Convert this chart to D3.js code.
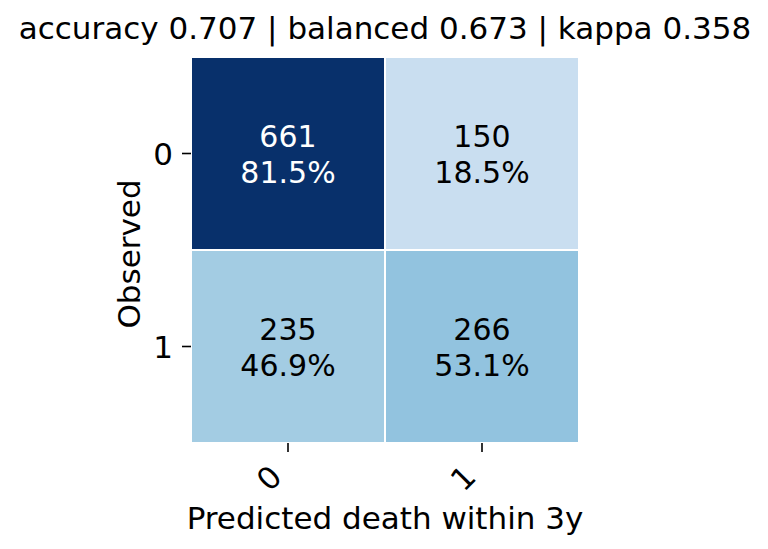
<!DOCTYPE html>
<html>
<head>
<meta charset="utf-8">
<script src="https://cdn.jsdelivr.net/npm/d3@7"></script>
<style>
  body { margin: 0; background: #fff; }
  text { font-family: "DejaVu Sans", sans-serif; }
</style>
</head>
<body>
<div id="chart"></div>
<script>
// confusion matrix values (rows = observed, cols = predicted)
const observedLabels = ["0", "1"];
const predictedLabels = ["0", "1"];
const counts = [
    [661, 150],
    [235, 266]
];
const rowPercents = [
    [81.5, 18.5],
    [46.9, 53.1]
];
const titleText = "accuracy 0.707 | balanced 0.673 | kappa 0.358";
const xLabel = "Predicted death within 3y";
const yLabel = "Observed";

const width = 768;
const height = 549;
const plot = { left: 191, right: 579, top: 57, bottom: 443 };
const fontSize = 31;
const cellFont = 30;

const svg = d3.select("#chart").append("svg")
    .attr("width", width)
    .attr("height", height);

const x = d3.scaleBand()
    .domain(predictedLabels)
    .range([plot.left, plot.right]);

const y = d3.scaleBand()
    .domain(observedLabels)
    .range([plot.top, plot.bottom]);

const color = d3.scaleSequential(d3.interpolateBlues)
    .domain([0, d3.max(counts.flat())]);

// flatten into cells
const cells = [];
observedLabels.forEach((o, i) => {
    predictedLabels.forEach((p, j) => {
        cells.push({ obs: o, pred: p, count: counts[i][j], pct: rowPercents[i][j] });
    });
});

const cellGroup = svg.append("g").attr("class", "cells");

cellGroup.selectAll("rect")
    .data(cells)
    .enter()
    .append("rect")
    .attr("x", d => x(d.pred))
    .attr("y", d => y(d.obs))
    .attr("width", x.bandwidth())
    .attr("height", y.bandwidth())
    .attr("fill", d => color(d.count))
    .attr("stroke", "#fff")
    .attr("stroke-width", 2);

// annotations
const labels = cellGroup.selectAll(".cell-label")
    .data(cells)
    .enter()
    .append("text")
    .attr("class", "cell-label")
    .attr("text-anchor", "middle")
    .attr("font-size", cellFont)
    .attr("fill", d => d.count / color.domain()[1] > 0.6 ? "#fff" : "#000");

labels.append("tspan")
    .attr("x", d => x(d.pred) + x.bandwidth() / 2)
    .attr("y", d => y(d.obs) + y.bandwidth() / 2 - 7)
    .text(d => d.count);

labels.append("tspan")
    .attr("x", d => x(d.pred) + x.bandwidth() / 2)
    .attr("y", d => y(d.obs) + y.bandwidth() / 2 + 29)
    .text(d => d.pct.toFixed(1) + "%");

// x axis
const xAxis = svg.append("g")
    .attr("transform", `translate(0, ${plot.bottom})`)
    .call(d3.axisBottom(x).tickSize(9).tickPadding(0));
xAxis.select(".domain").remove();
xAxis.selectAll(".tick line").attr("stroke", "#000").attr("stroke-width", 1.6);
xAxis.selectAll(".tick text")
    .attr("font-size", fontSize)
    .attr("font-family", "DejaVu Sans, sans-serif")
    .attr("fill", "#000")
    .attr("text-anchor", "middle")
    .attr("dominant-baseline", "central")
    .attr("dy", null)
    .attr("y", null)
    .attr("transform", "translate(-19, 35) rotate(-45)");

// y axis
const yAxis = svg.append("g")
    .attr("transform", `translate(${plot.left}, 0)`)
    .call(d3.axisLeft(y).tickSize(9).tickPadding(9));
yAxis.select(".domain").remove();
yAxis.selectAll(".tick line").attr("stroke", "#000").attr("stroke-width", 1.6);
yAxis.selectAll(".tick text")
    .attr("font-size", fontSize)
    .attr("font-family", "DejaVu Sans, sans-serif")
    .attr("fill", "#000")
    .attr("dy", "0.36em");

// title and axis labels
svg.append("text")
    .attr("x", (plot.left + plot.right) / 2)
    .attr("y", 39)
    .attr("text-anchor", "middle")
    .attr("font-size", fontSize)
    .text(titleText);

svg.append("text")
    .attr("x", (plot.left + plot.right) / 2)
    .attr("y", 529)
    .attr("text-anchor", "middle")
    .attr("font-size", fontSize)
    .text(xLabel);

svg.append("text")
    .attr("transform", `translate(140, ${(plot.top + plot.bottom) / 2 + 4}) rotate(-90)`)
    .attr("text-anchor", "middle")
    .attr("font-size", fontSize)
    .text(yLabel);
</script>
</body>
</html>
